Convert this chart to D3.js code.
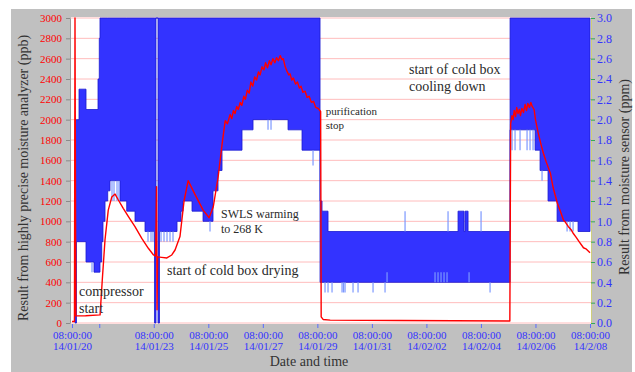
<!DOCTYPE html>
<html>
<head>
<meta charset="utf-8">
<script src="https://cdn.jsdelivr.net/npm/d3@7"></script>
<style>
  body { margin: 0; background: #fff; }
  svg { display: block; }
  text { font-family: "Liberation Serif", "DejaVu Serif", serif; }
</style>
</head>
<body>
<svg id="chart" width="635" height="372"></svg>
<script>
// time is counted in days from 14/01/20 08:00:00
const startTime = new Date(2014, 0, 20, 8, 0, 0);
const tickDays = [0, 1, 3, 5, 7, 9, 11, 13, 15, 17, 19];
const tickLabels = ["14/01/20", "", "14/01/23", "14/01/25", "14/01/27", "14/01/29",
  "14/01/31", "14/02/02", "14/02/04", "14/02/06", "14/2/08"];
const ppbTicks = d3.range(0, 3001, 200);
const ppmTicks = d3.range(0, 16).map(i => i * 0.2);

// moisture analyzer (ppb): [day, value]
const analyzer = [
  [0, 15], [0.09, 15], [0.11, 3000], [0.14, 70], [0.5, 72], [1.03, 80],
  [1.11, 420], [1.21, 816], [1.33, 1110], [1.46, 1240], [1.58, 1268], [1.70, 1210],
  [1.88, 1128], [2.07, 1046], [2.31, 947], [2.56, 833], [2.80, 735], [2.99, 669],
  [3.07, 659], [3.10, 1340], [3.12, 130], [3.14, 650], [3.29, 646], [3.48, 640],
  [3.66, 669], [3.78, 718], [3.96, 850], [4.11, 1200], [4.26, 1400], [4.52, 1260],
  [4.81, 1110], [5.03, 1035], [5.18, 1140], [5.36, 1436], [5.51, 1770], [5.62, 1990],
  [5.70, 1960], [5.80, 2050], [5.86, 2010], [5.92, 2090], [5.98, 2060], [6.04, 2130],
  [6.10, 2100], [6.17, 2170], [6.23, 2140], [6.30, 2230], [6.36, 2200], [6.43, 2290],
  [6.50, 2260], [6.56, 2370], [6.63, 2330], [6.70, 2420], [6.77, 2390], [6.84, 2470],
  [6.90, 2440], [6.97, 2520], [7.04, 2490], [7.10, 2560], [7.17, 2510], [7.24, 2580],
  [7.30, 2540], [7.37, 2600], [7.44, 2560], [7.50, 2610], [7.57, 2580], [7.64, 2630],
  [7.70, 2590], [7.75, 2600], [7.82, 2520], [7.88, 2480], [7.95, 2440], [8.00, 2450],
  [8.06, 2390], [8.12, 2410], [8.20, 2350], [8.27, 2370], [8.34, 2310], [8.40, 2330],
  [8.47, 2270], [8.55, 2280], [8.62, 2220], [8.70, 2230], [8.78, 2170], [8.86, 2180],
  [8.94, 2120], [9.03, 2110], [9.12, 2080], [9.14, 60], [9.21, 35], [9.47, 28],
  [12.0, 25], [16.06, 20], [16.09, 1960], [16.14, 2040], [16.18, 2000], [16.22, 2090],
  [16.27, 2030], [16.31, 2120], [16.36, 2060], [16.41, 2100], [16.45, 2040], [16.50, 2110],
  [16.56, 2070], [16.62, 2150], [16.67, 2090], [16.72, 2160], [16.78, 2120], [16.83, 2170],
  [16.88, 2130], [16.95, 2100], [17.00, 2000], [17.10, 1870], [17.20, 1760], [17.29, 1670],
  [17.40, 1580], [17.55, 1470], [17.65, 1330], [17.80, 1180], [17.90, 1110], [18.03, 1010],
  [18.10, 990], [18.20, 950], [18.30, 920], [18.39, 880], [18.50, 840], [18.60, 800],
  [18.76, 740], [18.85, 730], [19.0, 690]
];

// moisture sensor (ppm): [day, low, high] of the dense reading band
const sensorBand = [
  [0.110, 0.0, 2.0], [0.165, 0.8, 2.0], [0.257, 0.8, 2.3], [0.514, 0.6, 2.1],
  [0.807, 0.5, 2.1], [0.954, 0.5, 2.4], [1.001, 0.5, 2.8], [1.027, 0.6, 3.0],
  [1.090, 0.8, 3.0], [1.137, 1.0, 3.0], [1.211, 1.2, 3.0], [1.310, 1.3, 3.0],
  [1.394, 1.4, 3.0], [1.761, 1.2, 3.0], [2.007, 1.1, 3.0], [2.311, 1.0, 3.0],
  [2.678, 0.9, 3.0], [3.026, 0.0, 3.0], [3.081, 3.0, 3.0], [3.155, 0.0, 3.0],
  [3.210, 0.9, 3.0], [3.852, 1.0, 3.0], [3.999, 1.1, 3.0], [4.072, 1.2, 3.0],
  [4.402, 1.1, 3.0], [4.806, 1.0, 3.0], [5.172, 1.3, 3.0], [5.356, 1.5, 3.0],
  [5.503, 1.7, 3.0], [6.236, 1.9, 3.0], [6.640, 2.0, 3.0], [7.924, 1.9, 3.0],
  [8.437, 1.7, 3.0], [9.098, 0.4, 1.2], [9.171, 0.4, 1.1], [9.391, 0.4, 0.9],
  [14.160, 0.4, 1.1], [14.380, 0.4, 0.9], [14.417, 0.4, 1.1], [14.527, 0.4, 0.9],
  [16.068, 1.9, 3.0], [16.985, 1.7, 3.0], [17.168, 1.5, 3.0], [17.461, 1.2, 3.0],
  [17.792, 1.0, 3.0], [18.562, 0.9, 3.0], [19.0, 0.9, 3.0]
];

// single outlier readings (ppm): [day, from, to]
const sensorSpikes = [
  [0.734, 0.6, 0.5], [1.467, 1.4, 1.2], [1.541, 1.4, 1.2], [1.651, 1.4, 1.2], [1.724, 1.4, 1.2],
  [2.788, 0.9, 0.8], [2.898, 0.9, 0.8], [2.971, 0.9, 0.8],
  [3.265, 0.9, 0.8], [3.375, 0.9, 0.8], [3.485, 0.9, 0.8], [3.595, 0.9, 0.8], [3.705, 0.9, 0.8],
  [5.062, 1.0, 0.9], [7.190, 2.0, 1.9], [7.300, 2.0, 1.9], [8.841, 1.7, 1.55],
  [12.216, 0.9, 1.1], [13.793, 0.9, 1.1], [15.004, 0.9, 1.1],
  [9.281, 0.4, 0.3], [9.391, 0.4, 0.3], [9.538, 0.4, 0.3], [9.905, 0.4, 0.3], [9.960, 0.4, 0.3],
  [10.015, 0.4, 0.3], [10.308, 0.4, 0.3], [10.492, 0.4, 0.3], [11.042, 0.4, 0.3],
  [11.482, 0.4, 0.3], [15.334, 0.4, 0.3],
  [11.556, 0.4, 0.5], [13.316, 0.4, 0.5], [13.426, 0.4, 0.5], [13.536, 0.4, 0.5],
  [13.646, 0.4, 0.5], [13.756, 0.4, 0.5], [14.564, 0.4, 0.5],
  [16.141, 1.9, 1.7], [16.251, 1.9, 1.7], [16.434, 1.9, 1.7], [16.691, 1.9, 1.7],
  [16.801, 1.9, 1.7], [16.911, 1.9, 1.7],
  [17.241, 1.5, 1.4], [18.159, 1.0, 0.9], [18.269, 1.0, 0.9], [18.379, 1.0, 0.9]
];

// notes: [day, ppb at first baseline, font size, line gap, lines]
const notes = [
  [0.257, 266, 14, 17, ["compressor", "start"]],
  [3.485, 472, 14, 17, ["start of cold box drying"]],
  [5.466, 1033, 12, 15, ["SWLS warming", "to 268 K"]],
  [9.307, 2046, 11, 14, ["purification", "stop"]],
  [12.362, 2449, 14, 17, ["start of cold box", "cooling down"]]
];

const at = d => new Date(+startTime + d * 864e5);

const svg = d3.select('#chart');

const x = d3.scaleTime().domain([at(0), at(19)]).range([72, 590]);
const yL = d3.scaleLinear().domain([0, 3000]).range([323, 18]);
const yR = d3.scaleLinear().domain([0, 3]).range([323, 18]);

// frame
svg.append('rect').attr('x', 11).attr('y', 9).attr('width', 621).attr('height', 363).attr('fill', '#c0c0c0');
svg.append('rect').attr('x', 71).attr('y', 17).attr('width', 520).attr('height', 307).attr('fill', '#fff');

svg.append('clipPath').attr('id', 'plot')
  .append('rect').attr('x', 71).attr('y', 17).attr('width', 520).attr('height', 307);

// grid
svg.append('g')
  .selectAll('line')
  .data(ppbTicks)
  .enter().append('line')
  .attr('x1', 71).attr('x2', 591)
  .attr('y1', d => yL(d)).attr('y2', d => yL(d))
  .attr('stroke', '#ffbcbc')
  .attr('stroke-width', 1);

const plot = svg.append('g').attr('clip-path', 'url(#plot)');

const band = d3.area()
  .x(d => x(at(d[0])))
  .y0(d => yR(d[1]))
  .y1(d => yR(d[2]))
  .curve(d3.curveStepAfter);

plot.append('path')
  .datum(sensorBand)
  .attr('d', band)
  .attr('fill', '#3333ff')
  .attr('stroke', '#1a1ad0')
  .attr('stroke-width', 0.8);

plot.append('g')
  .selectAll('line')
  .data(sensorSpikes)
  .enter().append('line')
  .attr('x1', d => x(at(d[0]))).attr('x2', d => x(at(d[0])))
  .attr('y1', d => yR(d[1])).attr('y2', d => yR(d[2]))
  .attr('stroke', '#7c98ff')
  .attr('stroke-width', 1.2);

const line = d3.line()
  .x(d => x(at(d[0])))
  .y(d => yL(d[1]));

plot.append('path')
  .datum(analyzer)
  .attr('d', line)
  .attr('fill', 'none')
  .attr('stroke', '#ff0000')
  .attr('stroke-width', 1.4)
  .attr('stroke-linejoin', 'round');

// notes
notes.forEach(n => {
  const t = svg.append('text')
    .attr('x', x(at(n[0])))
    .attr('y', yL(n[1]))
    .attr('font-size', n[2])
    .attr('fill', '#2a2a2a');
  n[4].forEach((s, i) => {
    t.append('tspan').attr('x', x(at(n[0]))).attr('y', yL(n[1]) + i * n[3]).text(s);
  });
});

// left axis
const left = svg.append('g')
  .attr('transform', 'translate(70,0)')
  .call(d3.axisLeft(yL).tickValues(ppbTicks).tickSize(4).tickSizeOuter(0).tickPadding(4).tickFormat(d3.format('d')));
left.select('.domain').attr('stroke', '#9a9a9a');
left.selectAll('.tick line').attr('stroke', '#8a8a8a');
left.selectAll('.tick text')
  .attr('fill', '#ff0000')
  .attr('font-size', 11)
  .attr('font-family', '"Liberation Serif", serif');

// right axis
const right = svg.append('g')
  .attr('transform', 'translate(591,0)')
  .call(d3.axisRight(yR).tickValues(ppmTicks).tickSize(4).tickSizeOuter(0).tickPadding(2).tickFormat(d3.format('.1f')));
right.select('.domain').attr('stroke', '#d0cf7a');
right.selectAll('.tick line').attr('stroke', '#33aa55');
right.selectAll('.tick text')
  .attr('fill', '#3333ff')
  .attr('font-size', 12)
  .attr('font-family', '"Liberation Serif", serif');

// bottom axis
const bottom = svg.append('g')
  .attr('transform', 'translate(0,324)')
  .call(d3.axisBottom(x).tickValues(tickDays.map(at)).tickSize(4).tickSizeOuter(0).tickFormat(''));
bottom.select('.domain').remove();
bottom.selectAll('.tick line').attr('stroke', '#5a6cff');
bottom.selectAll('.tick text').remove();
bottom.selectAll('.tick').each(function (d, i) {
  if (!tickLabels[i]) return;
  const t = d3.select(this).append('text')
    .attr('fill', '#3333ff')
    .attr('font-size', 11)
    .attr('text-anchor', 'middle')
    .attr('font-family', '"Liberation Serif", serif');
  t.append('tspan').attr('x', 0).attr('y', 15).text('08:00:00');
  t.append('tspan').attr('x', 0).attr('y', 26).text(tickLabels[i]);
});

// titles
svg.append('text')
  .attr('transform', 'translate(28,178) rotate(-90)')
  .attr('text-anchor', 'middle')
  .attr('font-size', 14)
  .attr('fill', '#333')
  .text('Result from highly precise moisture analyzer (ppb)');

svg.append('text')
  .attr('transform', 'translate(629,177) rotate(-90)')
  .attr('text-anchor', 'middle')
  .attr('font-size', 14)
  .attr('fill', '#333')
  .text('Result from moisture sensor (ppm)');

svg.append('text')
  .attr('x', 309).attr('y', 366)
  .attr('text-anchor', 'middle')
  .attr('font-size', 14)
  .attr('fill', '#333')
  .text('Date and time');
</script>
</body>
</html>
